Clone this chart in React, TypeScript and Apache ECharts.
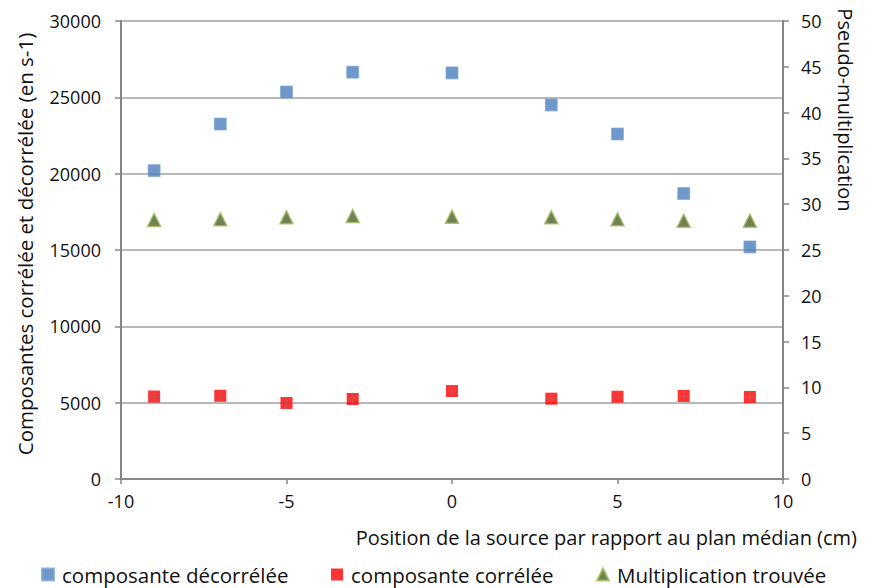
import React, { useEffect, useRef } from "react";
import * as echarts from "echarts";

const positions = [-9, -7, -5, -3, 0, 3, 5, 7, 9];
const decorrelee = [20200, 23250, 25350, 26650, 26600, 24500, 22600, 18700, 15200];
const correlee = [5400, 5450, 4980, 5240, 5760, 5260, 5390, 5440, 5370];
const multiplication = [28.28, 28.35, 28.57, 28.71, 28.64, 28.57, 28.35, 28.2, 28.2];

const seriesNames = ["composante décorrélée", "composante corrélée", "Multiplication trouvée"];
const leftAxisName = "Composantes corrélée et décorrélée (en s-1)";
const rightAxisName = "Pseudo-multiplication";
const xAxisName = "Position de la source par rapport au plan médian (cm)";

const FONT = "'Open Sans', 'Noto Sans', sans-serif";

export default function App() {
  const ref = useRef<HTMLDivElement>(null);
  useEffect(() => {
    if (!ref.current) return;
    const chart = echarts.init(ref.current, undefined, { renderer: "svg" });
    const pair = (ys: number[]) => positions.map((x, i) => [x, ys[i]]);
    const plusPath =
      "path://M6.4,0 L7.6,0 L7.6,6.4 L14,6.4 L14,7.6 L7.6,7.6 L7.6,14 L6.4,14 L6.4,7.6 L0,7.6 L0,6.4 L6.4,6.4 Z";
    const plain = (v: number) => String(v);
    const legendBase = {
      bottom: 3,
      itemWidth: 12,
      itemHeight: 12,
      itemGap: 4,
      textStyle: { fontFamily: FONT, fontSize: 20.5, color: "#111", padding: [0, 0, 0, 3] },
      padding: 0,
    };
    chart.setOption({
      animation: false,
      textStyle: { fontFamily: FONT },
      grid: { left: 121, right: 92, top: 21, bottom: 109, containLabel: false },
      xAxis: {
        type: "value",
        min: -10,
        max: 10,
        interval: 5,
        axisLine: { show: true, onZero: false, lineStyle: { color: "#868686", width: 2 } },
        axisTick: { show: true, length: 5, lineStyle: { color: "#868686", width: 1.5 } },
        axisLabel: { fontFamily: FONT, fontSize: 18, color: "#111", margin: 13, formatter: plain },
        splitLine: { show: false },
      },
      yAxis: [
        {
          type: "value",
          min: 0,
          max: 30000,
          interval: 5000,
          position: "left",
          axisLine: { show: true, onZero: false, lineStyle: { color: "#868686", width: 2 } },
          axisTick: { show: true, length: 6, lineStyle: { color: "#868686", width: 1.5 } },
          axisLabel: { fontFamily: FONT, fontSize: 18, color: "#111", margin: 20, formatter: plain },
          splitLine: { show: true, lineStyle: { color: "#a0a0a0", width: 1.5 } },
        },
        {
          type: "value",
          min: 0,
          max: 50,
          interval: 5,
          position: "right",
          axisLine: { show: true, onZero: false, lineStyle: { color: "#868686", width: 2 } },
          axisTick: { show: true, length: 6, lineStyle: { color: "#868686", width: 1.5 } },
          axisLabel: { fontFamily: FONT, fontSize: 18, color: "#111", margin: 18, formatter: plain },
          splitLine: { show: false },
        },
      ],
      legend: [
        { ...legendBase, left: 41, data: [{ name: seriesNames[0], icon: "rect" }] },
        { ...legendBase, left: 331, data: [{ name: seriesNames[1], icon: "rect" }] },
        { ...legendBase, left: 596, data: [{ name: seriesNames[2], icon: "triangle" }] },
      ],
      series: [
        {
          name: seriesNames[0],
          type: "scatter",
          yAxisIndex: 0,
          symbol: "rect",
          symbolSize: 12,
          itemStyle: { color: "#4A7EBB", borderColor: "#7FA6D6", borderWidth: 0.8 },
          data: pair(decorrelee),
        },
        {
          name: seriesNames[1],
          type: "scatter",
          yAxisIndex: 0,
          symbol: "rect",
          symbolSize: 12,
          itemStyle: { color: "#FF0000" },
          data: pair(correlee),
        },
        {
          name: "plus",
          type: "scatter",
          yAxisIndex: 0,
          symbol: plusPath,
          symbolSize: 13,
          silent: true,
          itemStyle: { color: "rgba(150,120,120,0.5)" },
          data: pair(correlee),
          z: 3,
        },
        {
          name: seriesNames[2],
          type: "scatter",
          yAxisIndex: 1,
          symbol: "triangle",
          symbolSize: 13,
          itemStyle: { color: "#4F6228", borderColor: "#9BBB59", borderWidth: 1.5 },
          data: pair(multiplication),
        },
      ],
      graphic: [
        {
          type: "text",
          x: 25,
          y: 244,
          rotation: Math.PI / 2,
          style: {
            text: leftAxisName,
            fontFamily: FONT,
            fontSize: 20.5,
            fill: "#111",
            align: "center",
            verticalAlign: "middle",
          },
        },
        {
          type: "text",
          x: 845,
          y: 110,
          rotation: -Math.PI / 2,
          style: {
            text: rightAxisName,
            fontFamily: FONT,
            fontSize: 20,
            fill: "#111",
            align: "center",
            verticalAlign: "middle",
          },
        },
        {
          type: "text",
          x: 857,
          y: 537,
          style: {
            text: xAxisName,
            fontFamily: FONT,
            fontSize: 20,
            fill: "#111",
            align: "right",
            verticalAlign: "middle",
          },
        },
      ],
    });
    return () => chart.dispose();
  }, []);
  return <div ref={ref} style={{ width: 875, height: 588, position: "absolute", left: 0, top: 0, background: "#fff" }} />;
}
